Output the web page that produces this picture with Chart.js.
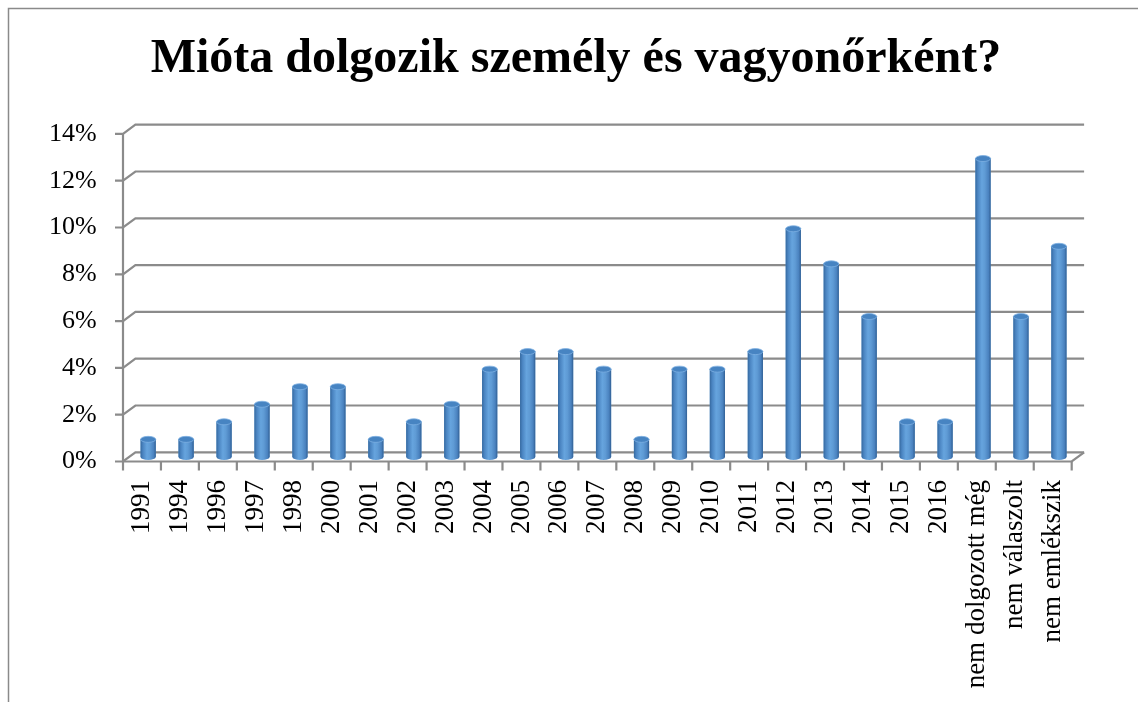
<!DOCTYPE html>
<html>
<head>
<meta charset="utf-8">
<script src="https://cdn.jsdelivr.net/npm/chart.js@4.4.1/dist/chart.umd.min.js"></script>
<style>
html,body{margin:0;padding:0;background:#fff;overflow:hidden}
#wrap{position:absolute;left:0;top:0;width:1138px;height:702px}
</style>
</head>
<body>
<div id="wrap"><canvas id="c" width="1138" height="702"></canvas></div>
<script>
const titleText = 'Mióta dolgozik személy és vagyonőrként?';
const categories = ['1991','1994','1996','1997','1998','2000','2001','2002','2003','2004','2005','2006','2007','2008','2009','2010','2011','2012','2013','2014','2015','2016','nem dolgozott még','nem válaszolt','nem emlékszik'];
const shares = [0.75,0.75,1.5,2.25,3,3,0.75,1.5,2.25,3.75,4.5,4.5,3.75,0.75,3.75,3.75,4.5,9.75,8.25,6,1.5,1.5,12.75,6,9];
const yMin = 0, yMax = 14, yStep = 2;

// depth (pseudo-3D) offsets, styling only
const DX = 6.2, DY = 4.6;
const GRID = '#8b8b8b';

const depthDecor = {
  id: 'depthDecor',
  beforeDatasetsDraw(chart) {
    const {ctx, chartArea: a, scales: {x, y}} = chart;
    ctx.save();
    // outer frame
    ctx.strokeStyle = '#8a8a8a';
    ctx.lineWidth = 1.5;
    ctx.beginPath();
    ctx.moveTo(8.5, 702); ctx.lineTo(8.5, 8.5); ctx.lineTo(1138, 8.5);
    ctx.stroke();

    ctx.strokeStyle = GRID;
    ctx.lineWidth = 2.2;
    ctx.lineCap = 'butt';
    const y0 = y.getPixelForValue(yMin);
    const yTop = y.getPixelForValue(yMax);
    // back wall + side wall grid lines
    y.ticks.forEach(t => {
      const py = y.getPixelForValue(t.value);
      ctx.beginPath();
      ctx.moveTo(a.left - DX - 8, py + DY);
      ctx.lineTo(a.left - DX, py + DY);
      ctx.lineTo(a.left + DX, py - DY);
      ctx.lineTo(a.right + DX, py - DY);
      ctx.stroke();
    });
    // front vertical axis
    ctx.beginPath();
    ctx.moveTo(a.left - DX, yTop + DY);
    ctx.lineTo(a.left - DX, y0 + DY);
    ctx.stroke();
    // floor front edge and right side
    ctx.beginPath();
    ctx.moveTo(a.left - DX, y0 + DY);
    ctx.lineTo(a.right - DX, y0 + DY);
    ctx.lineTo(a.right + DX, y0 - DY);
    ctx.stroke();
    // category tick marks
    const n = categories.length;
    for (let i = 0; i <= n; i++) {
      const bx = a.left + i * (a.right - a.left) / n - DX;
      ctx.beginPath();
      ctx.moveTo(bx, y0 + DY);
      ctx.lineTo(bx, y0 + DY + 9);
      ctx.stroke();
    }
    ctx.restore();
  },
  afterDatasetsDraw(chart) {
    const ctx = chart.ctx;
    const meta = chart.getDatasetMeta(0);
    ctx.save();
    meta.data.forEach(el => {
      const w = el.width, l = el.x - w / 2, r = el.x + w / 2, ry = 3;
      const g = ctx.createLinearGradient(l, 0, r, 0);
      g.addColorStop(0, '#36699f');
      g.addColorStop(0.15, '#4a84c1');
      g.addColorStop(0.42, '#66a4de');
      g.addColorStop(0.62, '#5f9bd5');
      g.addColorStop(0.86, '#4a82bf');
      g.addColorStop(1, '#315f93');
      ctx.fillStyle = g;
      ctx.beginPath();
      ctx.moveTo(l, el.y);
      ctx.lineTo(l, el.base);
      ctx.ellipse(el.x, el.base, w / 2, ry, 0, Math.PI, 0, true);
      ctx.lineTo(r, el.y);
      ctx.closePath();
      ctx.fill();
      // top cap
      ctx.beginPath();
      ctx.ellipse(el.x, el.y, w / 2, ry, 0, 0, Math.PI * 2);
      ctx.fillStyle = '#4784c2';
      ctx.fill();
      ctx.strokeStyle = '#7db0e2';
      ctx.lineWidth = 0.8;
      ctx.stroke();
    });
    ctx.restore();
  }
};

new Chart(document.getElementById('c'), {
  type: 'bar',
  data: {
    labels: categories,
    datasets: [{
      data: shares,
      backgroundColor: '#5b9bd5',
      borderWidth: 0,
      categoryPercentage: 1,
      barPercentage: 0.4
    }]
  },
  options: {
    responsive: false,
    animation: false,
    layout: { padding: { left: 14, right: 0, top: 0, bottom: 0 } },
    plugins: {
      legend: { display: false },
      tooltip: { enabled: false },
      title: {
        display: true,
        text: titleText,
        color: '#000',
        font: { family: 'Liberation Serif', size: 48, weight: 'bold' },
        padding: { top: 30.5, bottom: 41.2 }
      }
    },
    scales: {
      x: {
        grid: { display: false, drawTicks: false },
        border: { display: false },
        ticks: {
          autoSkip: false, minRotation: 90, maxRotation: 90,
          padding: 23, labelOffset: -DX,
          color: '#000',
          font: { family: 'Liberation Serif', size: 27 }
        },
        afterFit: s => { s.height = 245.1; }
      },
      y: {
        position: 'left',
        min: yMin, max: yMax,
        grid: { display: false, drawTicks: false },
        border: { display: false },
        ticks: {
          stepSize: yStep, padding: 32.5, labelOffset: DY,
          color: '#000',
          font: { family: 'Liberation Serif', size: 26 },
          callback: v => v + '%'
        },
        afterFit: s => { s.width = 129.2 - 14; }
      },
      yRight: {
        position: 'right',
        min: yMin, max: yMax,
        grid: { display: false, drawTicks: false },
        border: { display: false },
        ticks: { display: false },
        afterFit: s => { s.width = 1138 - 1077.9; }
      }
    }
  },
  plugins: [depthDecor]
});
</script>
</body>
</html>
